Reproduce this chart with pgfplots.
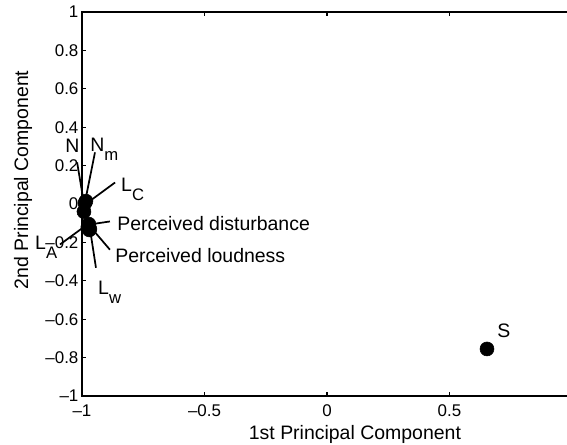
\documentclass[border=0pt]{standalone}
\usepackage{pgfplots}
\pgfplotsset{compat=1.18}
\usepackage{fontspec}
\setmainfont{Liberation Sans}
\usetikzlibrary{calc}

\newcommand{\lab}{\fontsize{14.6}{16}\selectfont}
\newcommand{\sub}[1]{\raisebox{-6.75pt}{\fontsize{12.5}{12.5}\selectfont #1}}

\begin{document}
\begin{tikzpicture}
\begin{axis}[
  name=ax,
  scale only axis,
  width=367.5pt, height=288pt,
  xmin=-1, xmax=1, ymin=-1, ymax=1,
  clip=false,
  xtick={-1,-0.5,0,0.5,1},
  xticklabels={–1,–0.5,0,0.5,{}},
  ytick={-1,-0.8,-0.6,-0.4,-0.2,0,0.2,0.4,0.6,0.8,1},
  yticklabels={–1,–0.8,–0.6,–0.4,–0.2,0,0.2,0.4,0.6,0.8,1},
  tick align=inside,
  major tick length=3pt,
  tick style={black, line width=0.9pt},
  axis line style={black, line width=1.2pt},
  ticklabel style={font=\fontsize{12.7}{14}\selectfont},
  xticklabel style={inner sep=0pt, anchor=north, yshift=-6.5pt},
  yticklabel style={inner sep=0pt, anchor=east, xshift=-2.5pt},
  xlabel={1st Principal Component},
  ylabel={2nd Principal Component},
  label style={font=\lab},
  xlabel style={at={(axis description cs:0.557,-0.112)}, anchor=base},
  ylabel style={at={(axis description cs:-0.1102,0.5625)}, anchor=base, rotate=0},
]
% leader lines from each variable to its label
\addplot[black, line width=1.3pt] coordinates {(-0.996,0.034) (-1.020,0.217)};
\addplot[black, line width=1.3pt] coordinates {(-0.984,0.034) (-0.947,0.269)};
\addplot[black, line width=1.3pt] coordinates {(-0.976,0.008) (-0.865,0.112)};
\addplot[black, line width=1.3pt] coordinates {(-0.971,-0.107) (-0.886,-0.091)};
\addplot[black, line width=1.3pt] coordinates {(-0.963,-0.123) (-0.886,-0.238)};
\addplot[black, line width=1.3pt] coordinates {(-0.967,-0.133) (-0.943,-0.332)};
\addplot[black, line width=1.3pt] coordinates {(-0.984,-0.112) (-1.090,-0.211)};

% principal component scores
\addplot[only marks, mark=*, mark size=5.25pt, black] coordinates {
  (-0.984,0.015) (-0.988,0.005) (-0.992,-0.040)
  (-0.972,-0.105) (-0.968,-0.130) (-0.976,-0.120) (-0.970,-0.135)
  (0.653,-0.755)
};

\node[anchor=base west, inner sep=0pt, font=\lab] at (axis cs:-1.069,0.269) {N};
\node[anchor=base west, inner sep=0pt, font=\lab] at (axis cs:-0.967,0.274) {N\sub{m}};
\node[anchor=base west, inner sep=0pt, font=\lab] at (axis cs:-0.841,0.065) {L\sub{C}};
\node[anchor=base west, inner sep=0pt, font=\lab] at (axis cs:-0.857,-0.138) {Perceived disturbance};
\node[anchor=base west, inner sep=0pt, font=\lab] at (axis cs:-0.865,-0.305) {Perceived loudness};
\node[anchor=base west, inner sep=0pt, font=\lab] at (axis cs:-0.935,-0.473) {L\sub{w}};
\node[anchor=base west, inner sep=0pt, font=\lab] at (axis cs:-1.192,-0.238) {L\sub{A}};
\node[anchor=base west, inner sep=0pt, font=\lab] at (axis cs:0.694,-0.697) {S};
\end{axis}
\pgfresetboundingbox
\path[use as bounding box] ($(ax.south west)+(-61.5pt,-36.75pt)$) rectangle ($(ax.north east)+(-3.75pt,9pt)$);
\end{tikzpicture}
\end{document}
